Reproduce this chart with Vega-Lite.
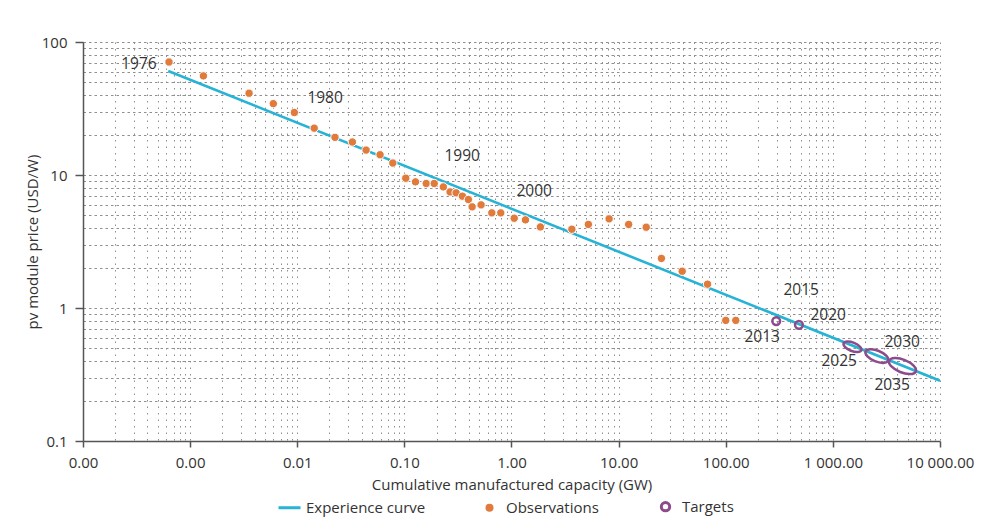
{
  "$schema": "https://vega.github.io/schema/vega-lite/v6.json",
  "width": 857,
  "height": 399,
  "autosize": {"type": "none"},
  "padding": {"left": 83, "top": 42, "right": 48, "bottom": 84},
  "background": "white",
  "config": {
    "view": {"stroke": null},
    "font": "Open Sans",
    "axis": {
      "labelFontSize": 15,
      "labelColor": "#333333",
      "titleFontSize": 15,
      "titleFontWeight": "normal",
      "titleColor": "#333333",
      "domainColor": "#555555",
      "domainWidth": 1.5,
      "tickColor": "#555555",
      "tickWidth": 1.5,
      "gridColor": "#8f8f8f",
      "gridWidth": 1
    }
  },
  "datasets": {
    "curve": [
      {"capacity": 0.000625, "price": 60.6},
      {"capacity": 10000, "price": 0.284}
    ],
    "obs": [
      {"capacity": 0.000635, "price": 70.7},
      {"capacity": 0.00133, "price": 55.6},
      {"capacity": 0.00355, "price": 41.2},
      {"capacity": 0.00598, "price": 34.4},
      {"capacity": 0.0094, "price": 29.5},
      {"capacity": 0.0144, "price": 22.5},
      {"capacity": 0.0225, "price": 19.2},
      {"capacity": 0.0327, "price": 17.7},
      {"capacity": 0.0439, "price": 15.4},
      {"capacity": 0.0593, "price": 14.2},
      {"capacity": 0.078, "price": 12.3},
      {"capacity": 0.103, "price": 9.46},
      {"capacity": 0.127, "price": 8.88},
      {"capacity": 0.16, "price": 8.63},
      {"capacity": 0.19, "price": 8.63},
      {"capacity": 0.231, "price": 8.14},
      {"capacity": 0.267, "price": 7.46},
      {"capacity": 0.304, "price": 7.34},
      {"capacity": 0.348, "price": 6.93},
      {"capacity": 0.396, "price": 6.54},
      {"capacity": 0.429, "price": 5.76},
      {"capacity": 0.52, "price": 5.96},
      {"capacity": 0.655, "price": 5.19},
      {"capacity": 0.794, "price": 5.19},
      {"capacity": 1.06, "price": 4.73},
      {"capacity": 1.35, "price": 4.6},
      {"capacity": 1.86, "price": 4.07},
      {"capacity": 3.66, "price": 3.91},
      {"capacity": 5.22, "price": 4.25},
      {"capacity": 8.15, "price": 4.68},
      {"capacity": 12.4, "price": 4.25},
      {"capacity": 18.1, "price": 4.05},
      {"capacity": 25.1, "price": 2.36},
      {"capacity": 39.2, "price": 1.89},
      {"capacity": 67.6, "price": 1.51},
      {"capacity": 100, "price": 0.807},
      {"capacity": 124, "price": 0.807}
    ],
    "targets": [
      {"capacity": 296, "price": 0.797},
      {"capacity": 482, "price": 0.748}
    ],
    "ellipses": [
      {"year": 2025, "capacity": 1524, "price": 0.511},
      {"year": 2030, "capacity": 2573, "price": 0.435},
      {"year": 2035, "capacity": 4467, "price": 0.366}
    ],
    "labels": [
      {"label": "1976", "capacity": 0.000333, "price": 68.8},
      {"label": "1980", "capacity": 0.0182, "price": 37.9},
      {"label": "1990", "capacity": 0.346, "price": 13.8},
      {"label": "2000", "capacity": 1.63, "price": 7.6},
      {"label": "2013", "capacity": 219, "price": 0.601},
      {"label": "2015", "capacity": 506, "price": 1.36},
      {"label": "2020", "capacity": 904, "price": 0.885},
      {"label": "2025", "capacity": 1146, "price": 0.399},
      {"label": "2030", "capacity": 4436, "price": 0.557},
      {"label": "2035", "capacity": 3581, "price": 0.264}
    ]
  },
  "layer": [
    {
      "data": {"name": "curve"},
      "mark": {"type": "line", "strokeWidth": 2.6, "clip": true},
      "encoding": {
        "x": {
          "field": "capacity",
          "type": "quantitative",
          "scale": {"type": "log", "domain": [0.0001, 10000], "nice": false},
          "axis": {
            "title": "Cumulative manufactured capacity (GW)",
            "values": [0.0001,0.0002,0.0003,0.0004,0.0005,0.0006,0.0007,0.0008,0.0009,
                       0.001,0.002,0.003,0.004,0.005,0.006,0.007,0.008,0.009,
                       0.01,0.02,0.03,0.04,0.05,0.06,0.07,0.08,0.09,
                       0.1,0.2,0.3,0.4,0.5,0.6,0.7,0.8,0.9,
                       1,2,3,4,5,6,7,8,9,
                       10,20,30,40,50,60,70,80,90,
                       100,200,300,400,500,600,700,800,900,
                       1000,2000,3000,4000,5000,6000,7000,8000,9000,10000],
            "labelExpr": "abs(log(datum.value)/LN10 - round(log(datum.value)/LN10)) < 1e-6 ? replace(format(datum.value, ',.2f'), ',', ' ') : ''",
            "tickOpacity": {"condition": {"test": "abs(log(datum.value)/LN10 - round(log(datum.value)/LN10)) < 1e-6", "value": 1}, "value": 0},
            "gridDash": [1.5, 5],
            "tickSize": 6,
            "labelPadding": 8,
            "titlePadding": 7,
            "labelFlush": false,
            "labelOverlap": false
          }
        },
        "y": {
          "field": "price",
          "type": "quantitative",
          "scale": {"type": "log", "domain": [0.1, 100], "nice": false},
          "axis": {
            "title": "pv module price (USD/W)",
            "values": [0.1,0.2,0.3,0.4,0.5,0.6,0.7,0.8,0.9,
                       1,2,3,4,5,6,7,8,9,
                       10,20,30,40,50,60,70,80,90,100],
            "labelExpr": "abs(log(datum.value)/LN10 - round(log(datum.value)/LN10)) < 1e-6 ? format(datum.value, '~g') : ''",
            "tickOpacity": {"condition": {"test": "abs(log(datum.value)/LN10 - round(log(datum.value)/LN10)) < 1e-6", "value": 1}, "value": 0},
            "gridDash": [2.5, 3],
            "tickSize": 8,
            "labelPadding": 8,
            "titlePadding": 1,
            "labelOverlap": false
          }
        },
        "color": {
          "datum": "Experience curve",
          "scale": {
            "domain": ["Experience curve", "Observations", "Targets"],
            "range": ["#27b3d5", "#e07b3c", "#8d4b8b"]
          },
          "legend": {
            "orient": "none",
            "legendX": 199,
            "legendY": 457,
            "direction": "horizontal",
            "title": null,
            "labelFontSize": 15,
            "labelColor": "#333333",
            "labelOffset": 9,
            "columnPadding": 56,
            "symbolSize": 484,
            "symbolStrokeWidth": 2.5,
            "encode": {
              "symbols": {
                "update": {
                  "shape": {"signal": "datum.value === 'Experience curve' ? 'stroke' : 'circle'"},
                  "fillOpacity": {"signal": "datum.value === 'Targets' ? 0 : 1"},
                  "strokeWidth": {"signal": "datum.value === 'Experience curve' ? 3 : (datum.value === 'Targets' ? 3 : 0)"},
                  "size": {"signal": "datum.value === 'Experience curve' ? 484 : (datum.value === 'Targets' ? 70 : 64)"},
                  "opacity": {"value": 1}
                }
              }
            }
          }
        }
      }
    },
    {
      "data": {"name": "obs"},
      "mark": {"type": "point", "shape": "circle", "filled": true, "size": 70, "opacity": 1, "stroke": "white", "strokeWidth": 1},
      "encoding": {
        "x": {"field": "capacity", "type": "quantitative"},
        "y": {"field": "price", "type": "quantitative"},
        "color": {"datum": "Observations"}
      }
    },
    {
      "data": {"name": "targets"},
      "mark": {"type": "point", "shape": "circle", "filled": false, "size": 60, "opacity": 1, "strokeWidth": 2.5},
      "encoding": {
        "x": {"field": "capacity", "type": "quantitative"},
        "y": {"field": "price", "type": "quantitative"},
        "color": {"datum": "Targets"}
      }
    },
    {
      "data": {"name": "ellipses"},
      "mark": {
        "type": "point",
        "shape": "M1,0 C1,0.2485 0.5523,0.45 0,0.45 C-0.5523,0.45 -1,0.2485 -1,0 C-1,-0.2485 -0.5523,-0.45 0,-0.45 C0.5523,-0.45 1,-0.2485 1,0 Z",
        "filled": false,
        "opacity": 1,
        "strokeWidth": 2.5,
        "angle": 22
      },
      "encoding": {
        "x": {"field": "capacity", "type": "quantitative"},
        "y": {"field": "price", "type": "quantitative"},
        "color": {"datum": "Targets"},
        "size": {
          "field": "year",
          "type": "ordinal",
          "scale": {"domain": [2025, 2030, 2035], "range": [361, 818, 762]},
          "legend": null
        }
      }
    },
    {
      "data": {"name": "labels"},
      "mark": {"type": "text", "fontSize": 15.5, "color": "#333333", "align": "center", "baseline": "middle"},
      "encoding": {
        "x": {"field": "capacity", "type": "quantitative"},
        "y": {"field": "price", "type": "quantitative"},
        "text": {"field": "label", "type": "nominal"}
      }
    }
  ]
}
